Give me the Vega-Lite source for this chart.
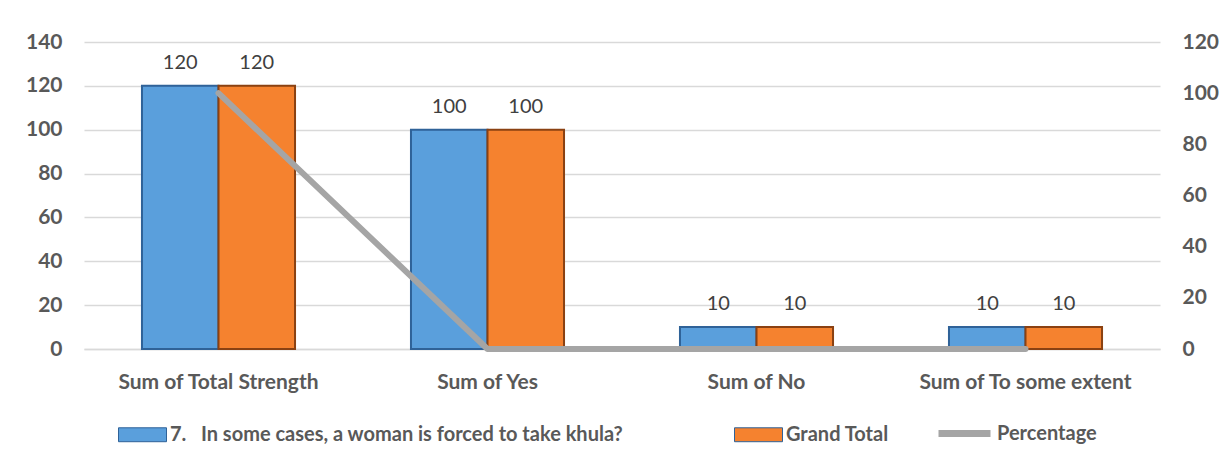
{
  "$schema": "https://vega.github.io/schema/vega-lite/v6.json",
  "width": 1076,
  "height": 307,
  "autosize": {"type": "none"},
  "padding": {"left": 84, "top": 42, "right": 63, "bottom": 115},
  "background": "white",
  "config": {"view": {"stroke": null}, "font": "Lato"},
  "datasets": {
    "bars": [
      {"category": "Sum of Total Strength", "series": "7.\u00a0\u00a0 In some cases, a woman is forced to take khula?", "value": 120},
      {"category": "Sum of Total Strength", "series": "Grand Total", "value": 120},
      {"category": "Sum of Yes", "series": "7.\u00a0\u00a0 In some cases, a woman is forced to take khula?", "value": 100},
      {"category": "Sum of Yes", "series": "Grand Total", "value": 100},
      {"category": "Sum of No", "series": "7.\u00a0\u00a0 In some cases, a woman is forced to take khula?", "value": 10},
      {"category": "Sum of No", "series": "Grand Total", "value": 10},
      {"category": "Sum of To some extent", "series": "7.\u00a0\u00a0 In some cases, a woman is forced to take khula?", "value": 10},
      {"category": "Sum of To some extent", "series": "Grand Total", "value": 10}
    ],
    "pct": [
      {"category": "Sum of Total Strength", "Percentage": 100},
      {"category": "Sum of Yes", "Percentage": 0},
      {"category": "Sum of No", "Percentage": 0},
      {"category": "Sum of To some extent", "Percentage": 0}
    ]
  },
  "encoding": {
    "x": {
      "field": "category",
      "type": "nominal",
      "sort": ["Sum of Total Strength", "Sum of Yes", "Sum of No", "Sum of To some extent"],
      "scale": {"paddingInner": 0.431, "paddingOuter": 0.2155},
      "axis": {
        "title": null,
        "labelAngle": 0,
        "labelFontSize": 21,
        "labelFontWeight": "bold",
        "labelColor": "#595959",
        "labelPadding": 22,
        "labelLimit": 0,
        "ticks": false,
        "domain": true,
        "domainColor": "#d9d9d9",
        "domainWidth": 1.5
      }
    }
  },
  "layer": [
    {
      "data": {"name": "bars"},
      "encoding": {
        "xOffset": {"field": "series", "type": "nominal", "sort": null, "scale": {"paddingInner": 0, "paddingOuter": 0}},
        "y": {
          "field": "value",
          "type": "quantitative",
          "scale": {"domain": [0, 140], "nice": false},
          "axis": {
            "title": null,
            "orient": "left",
            "values": [0, 20, 40, 60, 80, 100, 120, 140],
            "labelFontSize": 21,
            "labelFontWeight": "bold",
            "labelColor": "#595959",
            "labelPadding": 22,
            "ticks": false,
            "domain": false,
            "grid": true,
            "gridColor": "#d9d9d9",
            "gridWidth": 1.5
          }
        }
      },
      "layer": [
        {
          "mark": {"type": "bar", "strokeWidth": 2},
          "encoding": {
            "color": {
              "field": "series",
              "type": "nominal",
              "sort": null,
              "scale": {"range": ["#5a9fdc", "#f5822f"]},
              "legend": {
                "title": null,
                "orient": "none",
                "legendX": 34,
                "legendY": 368,
                "direction": "horizontal",
                "columnPadding": 108,
                "symbolType": "M-1,-0.29H1V0.29H-1Z",
                "symbolSize": 2304,
                "symbolStrokeWidth": 1,
                "labelFontSize": 20,
                "labelFontWeight": "bold",
                "labelColor": "#595959",
                "labelLimit": 0,
                "labelOffset": 3
              }
            },
            "stroke": {
              "condition": {"test": "datum.series === 'Grand Total'", "value": "#8a4112"},
              "value": "#2f6298"
            }
          }
        },
        {
          "mark": {"type": "text", "dy": -23, "fontSize": 20, "color": "#404040", "baseline": "middle"},
          "encoding": {"text": {"field": "value", "type": "quantitative"}}
        }
      ]
    },
    {
      "data": {"name": "pct"},
      "mark": {"type": "line", "strokeWidth": 6, "strokeCap": "round", "strokeJoin": "round"},
      "encoding": {
        "y": {
          "field": "Percentage",
          "type": "quantitative",
          "scale": {"domain": [0, 120], "nice": false},
          "axis": {
            "title": null,
            "orient": "right",
            "values": [0, 20, 40, 60, 80, 100, 120],
            "labelFontSize": 21,
            "labelFontWeight": "bold",
            "labelColor": "#595959",
            "labelPadding": 22,
            "ticks": false,
            "domain": false,
            "grid": false
          }
        },
        "stroke": {
          "datum": "Percentage",
          "scale": {"range": ["#a5a5a5"]},
          "legend": {
            "title": null,
            "orient": "none",
            "legendX": 851,
            "legendY": 362,
            "symbolType": "stroke",
            "symbolSize": 2704,
            "symbolStrokeWidth": 7,
            "labelFontSize": 20,
            "labelFontWeight": "bold",
            "labelColor": "#595959",
            "labelOffset": 3,
            "labelLimit": 0
          }
        }
      }
    }
  ],
  "resolve": {"scale": {"y": "independent", "stroke": "independent"}}
}
